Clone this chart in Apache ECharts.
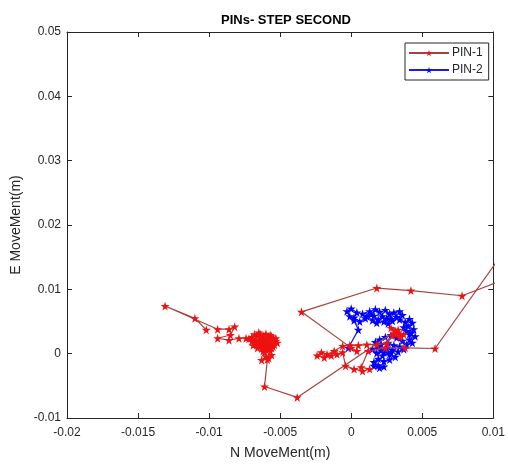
<!DOCTYPE html>
<html>
<head>
<meta charset="utf-8">
<script src="https://cdn.jsdelivr.net/npm/echarts@6/dist/echarts.min.js"></script>
<style>html,body{margin:0;padding:0;background:#fff}#c{width:508px;height:468px}</style>
</head>
<body>
<div id="c"></div>
<script>
// Chart text
var titleText = 'PINs- STEP SECOND';
var xName = 'N MoveMent(m)';
var yName = 'E MoveMent(m)';
var seriesNames = ['PIN-1', 'PIN-2'];
// Axis ranges / ticks
var xTicks = [-0.02, -0.015, -0.01, -0.005, 0, 0.005, 0.01];
var yTicks = [-0.01, 0, 0.01, 0.02, 0.03, 0.04, 0.05];

// PIN-1 trajectory [N, E]
var pin1 = [
  [-0.0102, 0.0037], [-0.0110, 0.0055], [-0.0131, 0.0074], [-0.0094, 0.0038], [-0.0086, 0.0038],
  [-0.0082, 0.0042], [-0.0085, 0.0029], [-0.0094, 0.0024], [-0.0086, 0.0021], [-0.0079, 0.0024],
  [-0.0074, 0.0024], [-0.0070, 0.0026], [-0.0068, 0.0020], [-0.0066, 0.0028], [-0.0063, 0.0024],
  [-0.0065, 0.0017], [-0.0069, 0.0013], [-0.0066, 0.0009], [-0.0062, 0.0012], [-0.0059, 0.0016],
  [-0.0061, 0.0021], [-0.0058, 0.0026], [-0.0055, 0.0023], [-0.0057, 0.0018], [-0.0054, 0.0014],
  [-0.0056, 0.0009], [-0.0060, 0.0006], [-0.0063, 0.0008], [-0.0067, 0.0016], [-0.0064, 0.0021],
  [-0.0060, 0.0019], [-0.0062, 0.0015], [-0.0058, 0.0012], [-0.0061, 0.0009], [-0.0064, 0.0013],
  [-0.0067, 0.0022], [-0.0070, 0.0019], [-0.0072, 0.0023], [-0.0068, 0.0030], [-0.0065, 0.0033],
  [-0.0062, 0.0028], [-0.0059, 0.0023], [-0.0056, 0.0027], [-0.0053, 0.0024], [-0.0052, 0.0017],
  [-0.0055, 0.0011], [-0.0058, 0.0008], [-0.0062, 0.0004], [-0.0065, 0.0011], [-0.0063, 0.0018],
  [-0.0061, 0.0024], [-0.0064, 0.0030], [-0.0060, 0.0031], [-0.0057, 0.0029], [-0.0053, 0.0020],
  [-0.0056, 0.0015], [-0.0059, 0.0011], [-0.0057, 0.0004], [-0.0061, 0.0002], [-0.0060, -0.0004],
  [-0.0063, -0.0010], [-0.0058, -0.0007], [-0.0056, -0.0002], [-0.0059, -0.0009], [-0.0061, -0.0051],
  [-0.0038, -0.0068], [0.0031, 0.0035], [0.0028, 0.0040], [0.0033, 0.0037], [0.0030, 0.0031],
  [0.0035, 0.0028], [0.0033, 0.0033], [0.0037, 0.0030], [0.0034, 0.0026], [0.0029, 0.0028],
  [0.0025, 0.0016], [0.0018, 0.0014], [0.0011, 0.0014], [0.0005, 0.0013], [-0.0001, 0.0013],
  [-0.0006, 0.0012], [-0.0012, 0.0004], [-0.0017, -0.0001], [-0.0021, 0.0002], [-0.0024, -0.0003],
  [-0.0019, -0.0006], [-0.0014, -0.0003], [-0.0010, -0.0001], [-0.0006, 0.0002], [-0.0004, -0.0019],
  [0.0002, -0.0024], [0.0008, -0.0027], [0.0013, -0.0024], [0.0007, -0.0021], [0.0012, 0.0004],
  [0.0024, 0.0009], [0.0038, 0.0009], [0.0059, 0.0008], [0.0130, 0.0229], [0.0130, 0.0134],
  [0.0078, 0.0090], [0.0042, 0.0098], [0.0018, 0.0102], [-0.0035, 0.0065], [0.0000, 0.0009],
  [0.0004, 0.0004]
];

// PIN-2 trajectory [N, E]
var pin2 = [
  [-0.0002, 0.0009], [0.0005, 0.0037], [0.0002, 0.0052], [-0.0001, 0.0058], [-0.0003, 0.0066],
  [0.0000, 0.0070], [0.0004, 0.0064], [0.0002, 0.0056], [0.0006, 0.0050], [0.0010, 0.0055],
  [0.0008, 0.0062], [0.0013, 0.0066], [0.0016, 0.0059], [0.0019, 0.0053], [0.0022, 0.0058],
  [0.0020, 0.0065], [0.0017, 0.0069], [0.0014, 0.0061], [0.0011, 0.0058], [0.0015, 0.0052],
  [0.0018, 0.0048], [0.0023, 0.0050], [0.0026, 0.0047], [0.0028, 0.0054],
  [0.0024, 0.0068], [0.0027, 0.0062], [0.0025, 0.0055], [0.0029, 0.0051],
  [0.0032, 0.0057], [0.0030, 0.0064], [0.0034, 0.0066], [0.0036, 0.0060], [0.0034, 0.0053],
  [0.0038, 0.0049], [0.0041, 0.0054], [0.0043, 0.0048], [0.0040, 0.0043], [0.0044, 0.0038],
  [0.0039, 0.0035], [0.0037, 0.0041], [0.0041, 0.0030],
  [0.0042, 0.0032], [0.0045, 0.0027], [0.0041, 0.0022], [0.0043, 0.0017], [0.0039, 0.0014],
  [0.0036, 0.0020], [0.0032, 0.0025], [0.0028, 0.0029], [0.0024, 0.0026], [0.0020, 0.0022],
  [0.0017, 0.0018], [0.0021, 0.0014], [0.0026, 0.0017], [0.0030, 0.0013], [0.0034, 0.0011],
  [0.0037, 0.0007], [0.0033, 0.0003], [0.0029, 0.0006], [0.0025, 0.0009], [0.0021, 0.0005],
  [0.0018, 0.0001], [0.0015, 0.0007], [0.0019, 0.0011], [0.0023, 0.0002], [0.0028, 0.0002],
  [0.0022, -0.0003], [0.0027, -0.0001], [0.0031, -0.0005], [0.0027, -0.0009],
  [0.0023, -0.0012], [0.0019, -0.0008], [0.0016, -0.0013], [0.0019, -0.0018], [0.0023, -0.0020],
  [0.0020, -0.0022], [0.0016, -0.0019]
];

var star = 'path://M50,0 L61,35 L98,35 L68,57 L79,91 L50,70 L21,91 L32,57 L2,35 L39,35 Z';
var fontFam = '"Liberation Sans", Arial, Helvetica, sans-serif';
var ink = '#262626';
function fmt(v) { return String(+(+v).toFixed(4)); }

var chart = echarts.init(document.getElementById('c'), null, {renderer: 'canvas'});
var axisCommon = {
  axisLine: {show: true, onZero: false, lineStyle: {color: ink, width: 1}},
  axisTick: {show: true, inside: true, length: 5, lineStyle: {color: ink}},
  splitLine: {show: false}
};
chart.setOption({
  animation: false,
  backgroundColor: '#fff',
  title: {
    text: titleText, left: 281, top: 9, textAlign: 'center',
    textStyle: {fontFamily: fontFam, fontSize: 13, fontWeight: 'bold', color: '#000'}
  },
  legend: {
    orient: 'vertical', left: 405, top: 43,
    data: seriesNames,
    itemWidth: 40, itemHeight: 8, itemGap: 5,
    padding: [4, 6, 4, 3],
    borderColor: ink, borderWidth: 1, backgroundColor: '#fff',
    textStyle: {fontFamily: fontFam, fontSize: 12, color: ink, padding: [0, 0, 0, -2]}
  },
  grid: {left: 67, right: 13, top: 32, bottom: 50, containLabel: false},
  xAxis: [
    Object.assign({
      type: 'value', position: 'bottom', min: xTicks[0], max: xTicks[xTicks.length - 1],
      interval: 0.005, name: xName, nameLocation: 'middle', nameGap: 28,
      nameTextStyle: {fontFamily: fontFam, fontSize: 14, color: ink},
      axisLabel: {fontFamily: fontFam, fontSize: 12, color: ink, margin: 9, formatter: fmt}
    }, axisCommon),
    Object.assign({
      type: 'value', position: 'top', min: xTicks[0], max: xTicks[xTicks.length - 1],
      interval: 0.005, axisLabel: {show: false}
    }, axisCommon)
  ],
  yAxis: [
    Object.assign({
      type: 'value', position: 'left', min: yTicks[0], max: yTicks[yTicks.length - 1],
      interval: 0.01, name: yName, nameLocation: 'middle', nameGap: 40,
      nameTextStyle: {fontFamily: fontFam, fontSize: 14, color: ink},
      axisLabel: {fontFamily: fontFam, fontSize: 12, color: ink, margin: 6, formatter: fmt}
    }, axisCommon),
    Object.assign({
      type: 'value', position: 'right', min: yTicks[0], max: yTicks[yTicks.length - 1],
      interval: 0.01, axisLabel: {show: false}
    }, axisCommon)
  ],
  series: [
    {
      name: seriesNames[0], type: 'line', data: pin1, z: 3, clip: true,
      symbol: star, symbolSize: 9, showSymbol: true,
      lineStyle: {color: '#a8403f', width: 1.2},
      itemStyle: {color: '#ee1111', borderWidth: 0}
    },
    {
      name: seriesNames[1], type: 'line', data: pin2, z: 2, clip: true,
      symbol: star, symbolSize: 9, showSymbol: true,
      lineStyle: {color: '#1a1aee', width: 1.2},
      itemStyle: {color: '#0000ff', borderWidth: 0}
    }
  ]
});
</script>
</body>
</html>
